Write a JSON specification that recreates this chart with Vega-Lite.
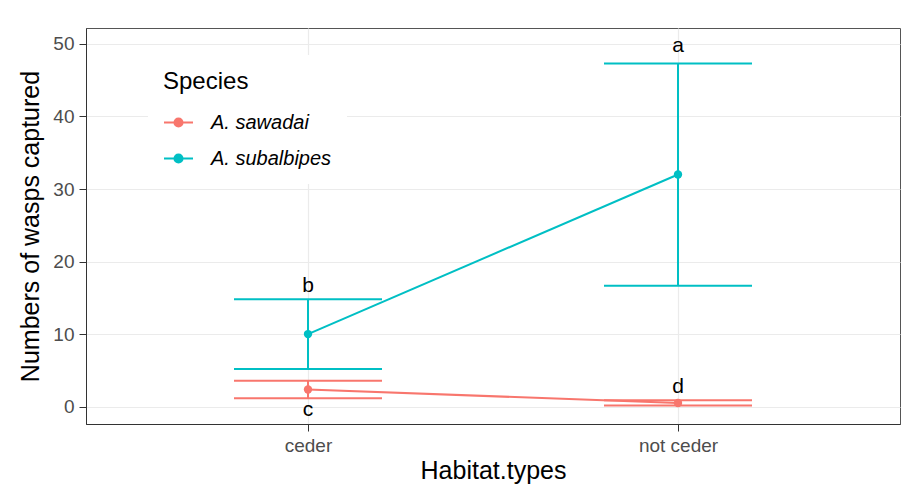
{
  "$schema": "https://vega.github.io/schema/vega-lite/v6.json",
  "width": 814,
  "height": 396,
  "autosize": {"type": "none"},
  "padding": {"left": 86, "top": 28, "right": 1, "bottom": 69},
  "background": "white",
  "config": {
    "view": {"stroke": "#555555", "strokeWidth": 1},
    "font": "Liberation Sans"
  },
  "datasets": {
    "summary": [
      {"Species": "A. sawadai", "Habitat": "ceder", "mean": 2.35, "lower": 1.15, "upper": 3.55},
      {"Species": "A. sawadai", "Habitat": "not ceder", "mean": 0.5, "lower": 0.14, "upper": 0.88},
      {"Species": "A. subalbipes", "Habitat": "ceder", "mean": 10.0, "lower": 5.2, "upper": 14.8},
      {"Species": "A. subalbipes", "Habitat": "not ceder", "mean": 32.0, "lower": 16.65, "upper": 47.3}
    ],
    "letters": [
      {"Habitat": "not ceder", "y": 49.7, "label": "a"},
      {"Habitat": "ceder", "y": 16.6, "label": "b"},
      {"Habitat": "ceder", "y": -0.45, "label": "c"},
      {"Habitat": "not ceder", "y": 2.76, "label": "d"}
    ]
  },
  "encoding": {
    "x": {
      "field": "Habitat",
      "type": "nominal",
      "scale": {"type": "point", "padding": 0.6, "domain": ["ceder", "not ceder"]},
      "axis": {
        "title": "Habitat.types",
        "titleFontSize": 25,
        "titleFontWeight": "normal",
        "titleColor": "#000000",
        "titlePadding": 3,
        "labelAngle": 0,
        "labelFontSize": 19,
        "labelColor": "#4D4D4D",
        "labelPadding": 5,
        "tickSize": 7,
        "tickColor": "#333333",
        "domainColor": "#333333",
        "grid": true,
        "gridColor": "#EBEBEB",
        "gridWidth": 1.2
      }
    }
  },
  "layer": [
    {
      "data": {"name": "summary"},
      "mark": {"type": "line", "strokeWidth": 2},
      "encoding": {
        "y": {
          "field": "mean",
          "type": "quantitative",
          "scale": {"domain": [-2.4, 52.2], "nice": false, "zero": false},
          "axis": {
            "title": "Numbers of wasps captured",
            "titleFontSize": 25,
            "titleFontWeight": "normal",
            "titleColor": "#000000",
            "titlePadding": 9,
            "values": [0, 5, 10, 15, 20, 25, 30, 35, 40, 45, 50],
            "labelExpr": "datum.value % 10 === 0 ? datum.label : ''",
            "labelFontSize": 19,
            "labelColor": "#4D4D4D",
            "labelPadding": 5,
            "tickSize": 7,
            "tickColor": "#333333",
            "tickOpacity": {"condition": {"test": "datum.value % 10 === 0", "value": 1}, "value": 0},
            "domainColor": "#333333",
            "gridColor": "#EBEBEB",
            "gridWidth": {"condition": {"test": "datum.value % 10 === 0", "value": 1.2}, "value": 0.7}
          }
        },
        "color": {
          "field": "Species",
          "type": "nominal",
          "scale": {"domain": ["A. sawadai", "A. subalbipes"], "range": ["#F8766D", "#00BFC4"]},
          "legend": {
            "orient": "none",
            "legendX": 62,
            "legendY": 27,
            "fillColor": "white",
            "padding": 15,
            "title": "Species",
            "titleFontSize": 24,
            "titleFontWeight": "normal",
            "titleColor": "#000000",
            "titlePadding": 13,
            "labelFontSize": 20,
            "labelFontStyle": "italic",
            "labelColor": "#000000",
            "labelOffset": 17,
            "rowPadding": 10,
            "symbolType": "M -1 0 L 1 0 M -0.28 0 A 0.28 0.28 0 1 1 0.28 0 A 0.28 0.28 0 1 1 -0.28 0 Z",
            "symbolSize": 841,
            "symbolStrokeWidth": 2
          }
        }
      }
    },
    {
      "data": {"name": "summary"},
      "mark": {"type": "rule", "strokeWidth": 2},
      "encoding": {
        "y": {"field": "lower", "type": "quantitative"},
        "y2": {"field": "upper"},
        "color": {"field": "Species", "type": "nominal", "legend": null}
      }
    },
    {
      "data": {"name": "summary"},
      "mark": {"type": "tick", "orient": "horizontal", "size": 148, "thickness": 2, "opacity": 1},
      "encoding": {
        "y": {"field": "upper", "type": "quantitative"},
        "color": {"field": "Species", "type": "nominal", "legend": null}
      }
    },
    {
      "data": {"name": "summary"},
      "mark": {"type": "tick", "orient": "horizontal", "size": 148, "thickness": 2, "opacity": 1},
      "encoding": {
        "y": {"field": "lower", "type": "quantitative"},
        "color": {"field": "Species", "type": "nominal", "legend": null}
      }
    },
    {
      "data": {"name": "summary"},
      "mark": {"type": "point", "filled": true, "size": 70, "opacity": 1},
      "encoding": {
        "y": {"field": "mean", "type": "quantitative"},
        "color": {"field": "Species", "type": "nominal", "legend": null}
      }
    },
    {
      "data": {"name": "letters"},
      "mark": {"type": "text", "fontSize": 21, "color": "#000000", "baseline": "middle"},
      "encoding": {
        "y": {"field": "y", "type": "quantitative"},
        "text": {"field": "label"}
      }
    }
  ]
}
